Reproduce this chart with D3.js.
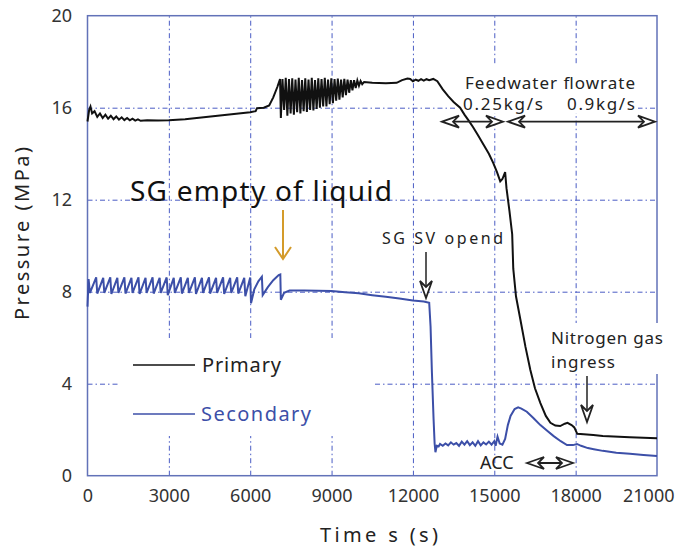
<!DOCTYPE html>
<html>
<head>
<meta charset="utf-8">
<script src="https://cdn.jsdelivr.net/npm/d3@7"></script>
<style>
	body { margin: 0; background: #fff; }
	text { font-family: 'Noto Sans', 'Noto Sans CJK JP', sans-serif; }
</style>
</head>
<body>
<div id="chart"></div>
<script>
var width = 678,
	height = 550;

// tick labels
var xTicks = [0, 3000, 6000, 9000, 12000, 15000, 18000, 21000];
var yTicks = [0, 4, 8, 12, 16, 20];

// primary side pressure [time s, MPa]
var primary = [
	[0,15.4],[60,15.9],[110,16.05],[170,15.75],[260,15.85],[360,15.6],[460,15.75],[560,15.55],
	[660,15.7],[760,15.52],[860,15.65],[960,15.5],[1060,15.62],[1160,15.48],[1260,15.58],[1360,15.46],
	[1460,15.55],[1560,15.45],[1660,15.52],[1760,15.44],[1860,15.49],[1960,15.43],[2200,15.45],
	[2600,15.44],[3000,15.45],[3600,15.5],[4200,15.57],[4800,15.65],[5400,15.73],[6000,15.8],
	[6200,15.85],[6250,15.98],[6500,16.0],[6700,16.1],[6850,16.45],[7000,16.9],[7100,17.25],
	[7130,15.55],[7190,17.25],[7250,15.9],[7310,17.3],[7370,15.65],[7430,17.25],[7490,15.75],
	[7550,17.28],[7610,15.7],[7670,17.22],[7730,15.8],[7790,17.3],[7850,15.75],[7910,17.2],
	[7970,15.85],[8030,17.28],[8090,15.82],[8150,17.22],[8210,15.9],[8270,17.3],[8330,15.88],
	[8390,17.2],[8450,15.95],[8510,17.28],[8570,16.0],[8630,17.25],[8690,16.05],[8750,17.3],
	[8810,16.05],[8870,17.22],[8930,16.15],[8990,17.28],[9050,16.2],[9110,17.25],[9170,16.3],
	[9230,17.27],[9290,16.35],[9350,17.22],[9410,16.45],[9470,17.25],[9530,16.55],[9590,17.22],
	[9650,16.65],[9710,17.2],[9770,16.75],[9830,17.2],[9890,16.85],[9950,17.18],[10010,16.95],
	[10070,17.16],[10130,17.02],[10200,17.12],[10500,17.08],[11000,17.06],[11400,17.08],
	[11600,17.2],[11800,17.27],[11900,17.25],[12000,17.15],[12100,17.22],[12200,17.17],
	[12300,17.24],[12400,17.18],[12500,17.24],[12600,17.2],[12750,17.25],[12900,17.15],
	[13100,16.8],[13300,16.5],[13500,16.25],[13740,16.0],[13900,15.7],[14050,15.45],[14220,15.15],
	[14400,14.8],[14600,14.4],[14800,14.0],[14960,13.6],[15100,13.2],[15220,12.8],[15300,12.9],
	[15400,13.2],[15450,12.5],[15560,11.5],[15660,10.5],[15700,9.0],[15800,7.8],[15960,6.8],
	[16150,5.6],[16330,4.6],[16500,3.8],[16700,3.16],[16900,2.6],[17070,2.3],[17250,2.18],
	[17430,2.16],[17600,2.26],[17700,2.3],[17850,2.2],[17950,2.1],[18060,1.82],[18300,1.8],
	[18650,1.77],[19000,1.73],[19400,1.7],[20000,1.67],[21000,1.63]
];

// secondary side pressure [time s, MPa]
var secondary = [
	[0,7.35],[40,8.55],[90,7.95],[320,8.62],[360,7.92],[580,8.6],[620,7.95],[840,8.62],[880,7.9],
	[1100,8.6],[1140,7.95],[1360,8.62],[1400,7.92],[1620,8.6],[1660,7.95],[1880,8.62],[1920,7.9],
	[2140,8.6],[2180,7.95],[2400,8.62],[2440,7.92],[2660,8.6],[2700,7.95],[2920,8.62],[2960,7.85],
	[3180,8.6],[3220,7.95],[3440,8.62],[3480,7.92],[3700,8.6],[3740,7.95],[3960,8.62],[4000,7.9],
	[4220,8.6],[4260,7.95],[4480,8.62],[4520,7.92],[4740,8.6],[4780,7.95],[5000,8.62],[5040,7.9],
	[5260,8.6],[5300,7.95],[5520,8.62],[5560,7.92],[5780,8.6],[5820,7.8],[6000,8.62],[6030,7.5],
	[6150,8.1],[6300,8.45],[6430,8.65],[6460,7.85],[6650,8.2],[6850,8.5],[7050,8.72],[7110,8.75],
	[7130,7.65],[7250,7.95],[7450,8.05],[8000,8.05],[9000,8.03],[9500,7.98],[10000,7.93],
	[10500,7.85],[11000,7.78],[11500,7.7],[12000,7.62],[12400,7.57],[12600,7.52],[12650,6.5],
	[12700,4.5],[12760,2.5],[12800,1.4],[12830,1.02],[12880,1.3],[12950,1.28],[13000,1.38],
	[13100,1.3],[13200,1.4],[13300,1.32],[13400,1.45],[13500,1.35],[13600,1.42],[13700,1.3],
	[13800,1.48],[13900,1.35],[14000,1.5],[14100,1.33],[14200,1.45],[14300,1.3],[14400,1.5],
	[14500,1.32],[14600,1.45],[14700,1.36],[14800,1.48],[14900,1.35],[15000,1.5],[15050,1.3],
	[15120,1.7],[15200,1.4],[15300,1.35],[15400,1.6],[15500,2.2],[15600,2.6],[15750,2.9],
	[15880,2.97],[16000,2.92],[16200,2.78],[16450,2.5],[16700,2.2],[16950,1.95],[17190,1.72],
	[17450,1.5],[17680,1.33],[17900,1.33],[18050,1.38],[18200,1.3],[18450,1.2],[18670,1.15],
	[19000,1.08],[19500,1.0],[20000,0.95],[20500,0.9],[21000,0.86]
];

var blue = '#3c4fa8',
	grid = '#4a5cc4',
	frame = '#6272b8';

var svg = d3.select('#chart').append('svg')
	.attr('width', width)
	.attr('height', height);

var x = d3.scaleLinear().domain([0, 21000]).range([87.5, 657]);
var y = d3.scaleLinear().domain([0, 20]).range([475.7, 15.7]);

// grid
svg.append('g')
	.attr('transform', 'translate(0,' + y(0) + ')')
	.call(d3.axisBottom(x).tickValues(xTicks.slice(1, -1)).tickSize(-(y(0) - y(20))).tickFormat(''))
	.call(function(g) { g.select('.domain').remove(); })
	.selectAll('line')
	.attr('stroke', grid).attr('stroke-dasharray', '5,3,1.5,3');

svg.append('g')
	.attr('transform', 'translate(' + x(0) + ',0)')
	.call(d3.axisLeft(y).tickValues(yTicks.slice(1, -1)).tickSize(-(x(21000) - x(0))).tickFormat(''))
	.call(function(g) { g.select('.domain').remove(); })
	.selectAll('line')
	.attr('stroke', grid).attr('stroke-dasharray', '5,3,1.5,3');

// frame
svg.append('rect')
	.attr('x', x(0)).attr('y', y(20))
	.attr('width', x(21000) - x(0)).attr('height', y(0) - y(20))
	.attr('fill', 'none').attr('stroke', frame).attr('stroke-width', 1.5);

// white boxes behind labels
svg.append('rect').attr('x', 118).attr('y', 338).attr('width', 254).attr('height', 98).attr('fill', '#fff');
svg.append('rect').attr('x', 457).attr('y', 64).attr('width', 181).attr('height', 49).attr('fill', '#fff');
svg.append('rect').attr('x', 548).attr('y', 323).attr('width', 120).attr('height', 51).attr('fill', '#fff');

// tick labels
svg.append('g')
	.attr('transform', 'translate(0,' + y(0) + ')')
	.call(d3.axisBottom(x).tickValues(xTicks).tickSize(0).tickPadding(14).tickFormat(d3.format('d')))
	.call(function(g) { g.select('.domain').remove(); })
	.selectAll('text')
	.attr('font-family', "'Noto Sans', sans-serif")
	.attr('font-size', 18).attr('fill', '#333')
	.filter(function(d) { return d === 21000; })
	.attr('text-anchor', 'end').attr('dx', 17);

svg.append('g')
	.attr('transform', 'translate(72,0)')
	.call(d3.axisLeft(y).tickValues(yTicks).tickSize(0).tickPadding(0))
	.call(function(g) { g.select('.domain').remove(); })
	.selectAll('text')
	.attr('font-family', "'Noto Sans', sans-serif")
	.attr('font-size', 18).attr('fill', '#333');

svg.append('text')
	.attr('x', 320).attr('y', 542)
	.attr('textLength', 118).attr('lengthAdjust', 'spacing')
	.attr('font-size', 20).attr('fill', '#222')
	.text('Time s (s)');

svg.append('text')
	.attr('transform', 'translate(29,320) rotate(-90)')
	.attr('textLength', 173).attr('lengthAdjust', 'spacing')
	.attr('font-size', 20).attr('fill', '#222')
	.text('Pressure (MPa)');

// curves
var line = d3.line()
	.x(function(d) { return x(d[0]); })
	.y(function(d) { return y(d[1]); });

svg.append('path').datum(secondary)
	.attr('d', line).attr('fill', 'none')
	.attr('stroke', blue).attr('stroke-width', 2);

svg.append('path').datum(primary)
	.attr('d', line).attr('fill', 'none')
	.attr('stroke', '#111').attr('stroke-width', 2);

// legend
svg.append('line').attr('x1', 133).attr('x2', 195).attr('y1', 365).attr('y2', 365)
	.attr('stroke', '#111').attr('stroke-width', 1.5);
svg.append('text').attr('x', 202).attr('y', 372).attr('font-size', 20).attr('fill', '#222')
	.attr('textLength', 79).attr('lengthAdjust', 'spacing').text('Primary');
svg.append('line').attr('x1', 133).attr('x2', 195).attr('y1', 414).attr('y2', 414)
	.attr('stroke', blue).attr('stroke-width', 1.5);
svg.append('text').attr('x', 201).attr('y', 421).attr('font-size', 20).attr('fill', blue)
	.attr('textLength', 110).attr('lengthAdjust', 'spacing').text('Secondary');

// annotations
function label(tx, ty, len, size, s) {
	var t = svg.append('text').attr('x', tx).attr('y', ty)
		.attr('font-size', size).attr('fill', '#222')
		.text(s);
	if (len) t.attr('textLength', len).attr('lengthAdjust', 'spacing');
}

svg.append('text').attr('x', 130).attr('y', 201)
	.attr('font-family', "'Liberation Sans', Arial, sans-serif")
	.attr('font-size', 28).attr('fill', '#111')
	.attr('textLength', 262).attr('lengthAdjust', 'spacing')
	.text('SG empty of liquid');

label(382, 244, 121, 16, 'SG SV opend');
label(465, 89, 170, 17, 'Feedwater flowrate');
label(463, 110, 80, 17, '0.25kg/s');
label(567, 110, 68, 17, '0.9kg/s');
label(551, 344, 112, 17, 'Nitrogen gas');
label(551, 368, 64, 17, 'ingress');
label(480, 469, 0, 18, 'ACC');

// gold arrow
svg.append('path')
	.attr('d', 'M283,210 L283,259 M275,247 L283,259 L291,247')
	.attr('fill', 'none').attr('stroke', '#d49b2a').attr('stroke-width', 2);

// hollow head arrows
function head(px, py, dx, dy) {
	// tip at px,py pointing along dx,dy
	var len = 17, half = 6,
		bx = px - dx * len, by = py - dy * len,
		nx = -dy * half, ny = dx * half,
		mx = px - dx * len * 0.65, my = py - dy * len * 0.65;
	svg.append('path')
		.attr('d', 'M' + px + ',' + py + 'L' + (bx + nx) + ',' + (by + ny) + 'L' + mx + ',' + my +
			'L' + (bx - nx) + ',' + (by - ny) + 'Z')
		.attr('fill', '#fff').attr('stroke', '#222').attr('stroke-width', 1.8);
}

function vArrow(ax, y1, y2) {
	svg.append('line').attr('x1', ax).attr('x2', ax).attr('y1', y1).attr('y2', y2 - 6)
		.attr('stroke', '#222').attr('stroke-width', 1.5);
	head(ax, y2, 0, 1);
}

function hArrow(x1, x2, ay) {
	svg.append('line').attr('x1', x1 + 6).attr('x2', x2 - 6).attr('y1', ay).attr('y2', ay)
		.attr('stroke', '#222').attr('stroke-width', 1.8);
	head(x1, ay, -1, 0);
	head(x2, ay, 1, 0);
}

vArrow(426, 252, 298);
vArrow(587, 376, 422);
hArrow(442, 503, 121.7);
hArrow(508, 655, 121.7);
hArrow(527, 573, 463);
</script>
</body>
</html>
